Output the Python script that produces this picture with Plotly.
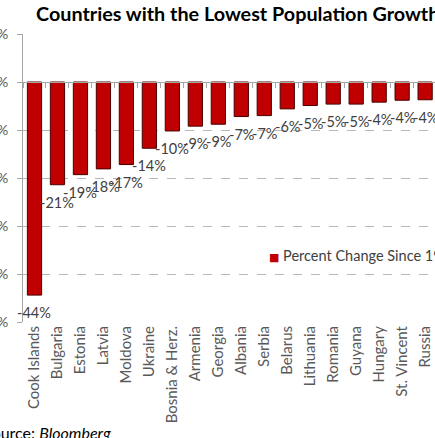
import plotly.graph_objects as go

countries = ["Cook Islands", "Bulgaria", "Estonia", "Latvia", "Moldova", "Ukraine",
             "Bosnia & Herz.", "Armenia", "Georgia", "Albania", "Serbia", "Belarus",
             "Lithuania", "Romania", "Guyana", "Hungary", "St. Vincent", "Russia"]
pct_change = [-44.4, -21.4, -19.3, -18.1, -17.2, -13.8, -10.2, -9.2, -8.8, -7.2, -7.0,
              -5.6, -4.9, -4.6, -4.6, -4.2, -3.8, -3.7]
series_name = "Percent Change Since 1990"
y_ticks = [10, 0, -10, -20, -30, -40, -50]
y_tick_labels = ["10%", "0%", "-10%", "-20%", "-30%", "-40%", "-50%"]

FONT = "Lato"
GRAY = "#595959"
BAR = "#C00000"

fig = go.Figure()
fig.add_trace(go.Bar(
    x=countries, y=pct_change, name=series_name, showlegend=False,
    marker=dict(color=BAR, line=dict(color="#4a0000", width=1)),
))
# invisible trace to carry the category axis drawn at zero
fig.add_trace(go.Scatter(
    x=countries, y=pct_change, xaxis="x2", mode="markers",
    marker=dict(opacity=0), showlegend=False, hoverinfo="skip",
))

for c, v in zip(countries, pct_change):
    fig.add_annotation(x=c, y=v, xref="x", yref="y", text=f"{v:.0f}%",
                       showarrow=False, yanchor="top", yshift=-7,
                       font=dict(family=FONT, size=14.5, color="#404040"))

XR = [-0.5, 17.43]
fig.update_layout(
    width=435, height=438,
    margin=dict(l=23, r=0, t=34, b=116),
    paper_bgcolor="white", plot_bgcolor="white",
    bargap=0.38,
    showlegend=False,
    title=dict(text="<b>Countries with the Lowest Population Growth Rates</b>",
               x=36 / 435, xanchor="left", y=1 - 14 / 438, yanchor="middle",
               font=dict(family=FONT, size=19.8, color="#000000")),
    xaxis=dict(range=XR, autorange=False, tickangle=-90, showline=False, ticks="",
               tickfont=dict(family=FONT, size=15, color=GRAY), automargin=False,
               showgrid=False),
    xaxis2=dict(overlaying="x", range=XR, autorange=False, anchor="free", position=50 / 60,
                side="bottom", showline=True, linecolor="#a6a6a6", linewidth=1,
                ticks="outside", ticklen=5, tickcolor="#a6a6a6", tickson="boundaries",
                showticklabels=False, showgrid=False),
    yaxis=dict(range=[-50, 10], tickvals=y_ticks, ticktext=y_tick_labels,
               showgrid=True, gridcolor="#b8b8b8", griddash="dash", zeroline=False,
               showline=True, linecolor="#a6a6a6", ticks="outside", ticklen=5,
               tickcolor="#a6a6a6", ticklabelstandoff=6,
               tickfont=dict(family=FONT, size=14, color=GRAY), automargin=False),
)

# legend entry (the reference legend runs off the right edge)
fig.add_annotation(
    text=(f"<span style='color:{BAR};font-family:DejaVu Sans;font-size:11px'>■</span>"
          f" {series_name}"),
    xref="paper", yref="paper",
    x=(267 - 23) / 412, y=(322 - 255) / 288, xanchor="left", yanchor="middle",
    showarrow=False, font=dict(family=FONT, size=14.5, color="#404040"),
)

fig.add_annotation(
    text="Source: <i>Bloomberg</i>", xref="paper", yref="paper",
    x=(-19 - 23) / 412, y=-(432 - 322) / 288, xanchor="left", yanchor="middle",
    showarrow=False, font=dict(family=FONT, size=16, color="#000000"),
)

fig.write_html("out.html", config={"displayModeBar": False},
               post_script="document.body.style.margin='0';")
